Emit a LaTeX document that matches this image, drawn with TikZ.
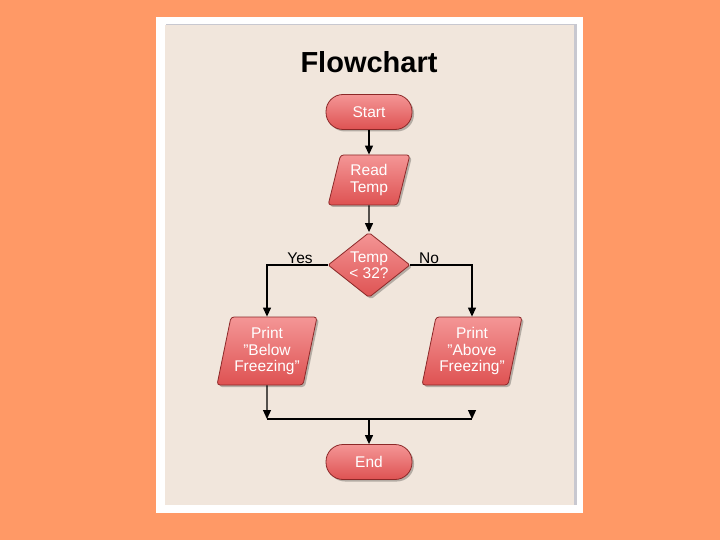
\documentclass[tikz,border=0pt]{standalone}
\usepackage{fontspec}
\setmainfont{Liberation Sans}
\usetikzlibrary{shapes.geometric,arrows.meta,shadows,calc}
\definecolor{bgorange}{RGB}{255,153,102}
\definecolor{paper}{RGB}{241,230,220}
\definecolor{edgegray}{RGB}{200,200,208}
\definecolor{boxtop}{RGB}{244,150,150}
\definecolor{boxbot}{RGB}{222,82,82}
\definecolor{boxline}{RGB}{140,40,40}
\tikzset{
  shapebase/.style={draw=boxline, line width=0.8pt, top color=boxtop, bottom color=boxbot,
    text=white, font=\fontsize{15.5}{16.5}\selectfont, align=center, inner sep=0pt,
    drop shadow={shadow xshift=2pt, shadow yshift=-2pt, opacity=0.25, fill=black}},
  term/.style={shapebase, rectangle, rounded corners=17pt, minimum width=86pt, minimum height=35pt},
  io/.style={shapebase, trapezium, trapezium left angle=75, trapezium right angle=105,
    trapezium stretches=true, rounded corners=3pt},
  decision/.style={shapebase, diamond, aspect=1.26, minimum width=82pt, minimum height=65pt, rounded corners=2pt},
  arr/.style={line width=1.2pt, -{Triangle[length=9pt,width=8pt]}},
  conn/.style={line width=1.2pt},
  lbl/.style={font=\fontsize{15.5}{16}\selectfont, anchor=base, inner sep=0pt}
}
\begin{document}
\begin{tikzpicture}[x=1pt,y=-1pt]
\useasboundingbox (0,0) rectangle (720,540);
\fill[bgorange] (0,0) rectangle (720,540);
\fill[white] (156,17) rectangle (583,513);
\fill[edgegray] (166,24) rectangle (577,505);
\fill[paper] (165,25) rectangle (574,505);
\node[inner sep=0pt, anchor=base, font=\bfseries\fontsize{29}{30}\selectfont] (title) at (369,73) {Flowchart};

\node[term] (start) at (369,112) {Start};
\node[io, minimum width=82pt, minimum height=50pt] (read) at (369,180) {Read\\Temp};
\node[decision] (dec) at (369,265) {Temp\\\textless{} 32?};
\node[io, minimum width=100pt, minimum height=68pt] (below) at (267,351) {Print\\\symbol{34}Below\\Freezing\symbol{34}};
\node[io, minimum width=100pt, minimum height=68pt] (above) at (472,351) {Print\\\symbol{34}Above\\Freezing\symbol{34}};
\node[term] (end) at (369,462) {End};

\node[lbl] (yes) at (300,263) {Yes};
\node[lbl] (no) at (429,263) {No};

\coordinate (l) at (267,419);
\coordinate (m) at (369,419);
\coordinate (r) at (472,419);
\coordinate (rt) at (472,410);

\draw[arr] (start) -- (read);
\draw[arr] (read) -- (dec);
\draw[arr] (dec.west) -| (below.north);
\draw[arr] (dec.east) -| (above.north);
\draw[arr] (below.south) -- (l);
\draw[conn] (l) -- (r);
\draw[arr] (rt) -- (r);
\draw[arr] (m) -- (end.north);
\end{tikzpicture}
\end{document}
